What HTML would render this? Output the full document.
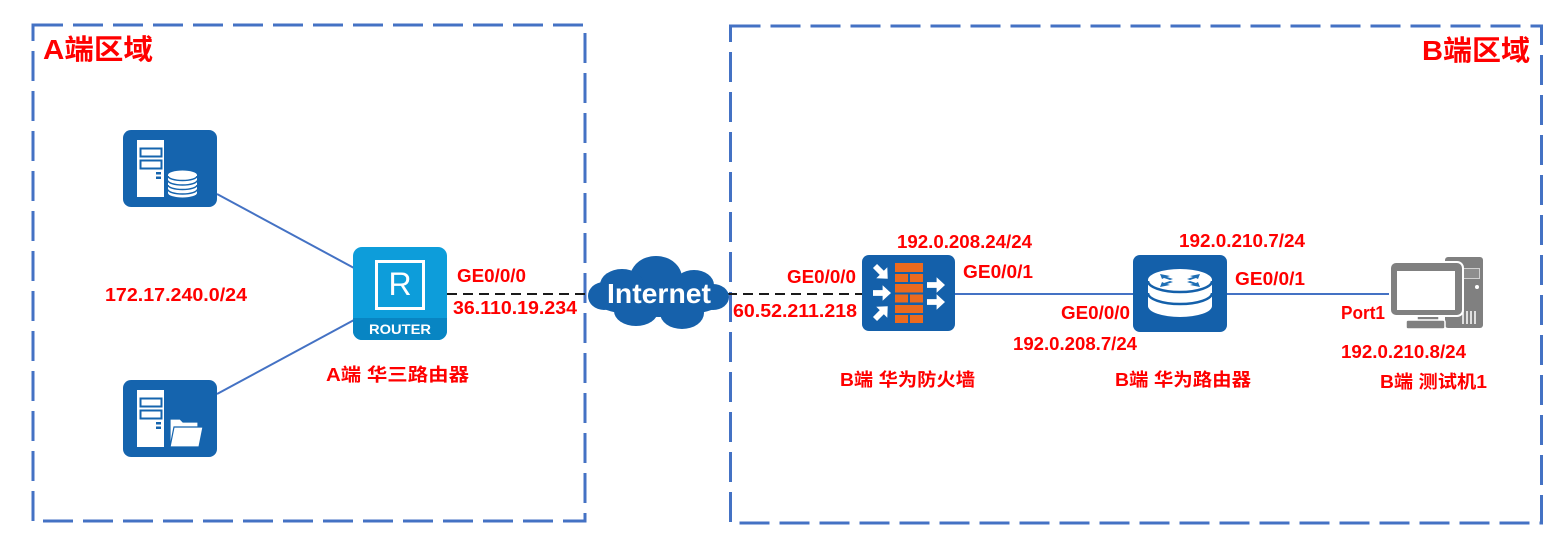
<!DOCTYPE html>
<html><head><meta charset="utf-8">
<style>
html,body{margin:0;padding:0;background:#fff;}
svg{display:block;}
text{font-family:"Liberation Sans","Noto Sans CJK SC",sans-serif;font-weight:bold;}
.r{fill:#ff0000;font-size:18px;}
</style></head>
<body>
<svg width="1568" height="551" viewBox="0 0 1568 551" xmlns="http://www.w3.org/2000/svg">
<defs>
  <polygon id="arr" points="0,-2.4 8,-2.4 8,-6.5 15,0 8,6.5 8,2.4 0,2.4" fill="#fff"/>
</defs>

<!-- region boxes -->
<g fill="none" stroke="#4472C4" stroke-width="3" stroke-dasharray="30 10">
  <rect x="33" y="25" width="552" height="496"/>
  <rect x="730.5" y="26" width="811" height="497"/>
</g>

<!-- connection lines -->
<g stroke="#4472C4" stroke-width="2" fill="none">
  <line x1="217" y1="194" x2="354" y2="268"/>
  <line x1="217" y1="394" x2="354" y2="320"/>
  <line x1="955" y1="294" x2="1133" y2="294"/>
  <line x1="1227" y1="294" x2="1391" y2="294"/>
</g>
<g stroke="#1a1a1a" stroke-width="2" stroke-dasharray="10 6" fill="none">
  <line x1="447" y1="294" x2="592" y2="294"/>
  <line x1="727" y1="294" x2="862" y2="294"/>
</g>

<!-- server 1 (database) -->
<rect x="123" y="130" width="94" height="77" rx="8" fill="#1564AE"/>
<rect x="137" y="140" width="27" height="57" fill="#fff"/>
<rect x="140.5" y="148.5" width="21" height="8" fill="none" stroke="#1564AE" stroke-width="2"/>
<rect x="140.5" y="160.5" width="21" height="8" fill="none" stroke="#1564AE" stroke-width="2"/>
<rect x="156" y="172" width="5" height="2.5" fill="#1564AE"/>
<rect x="156" y="176.5" width="5" height="2.5" fill="#1564AE"/>
<g>
  <path d="M168,175 A14.5,4.5 0 0 1 197,175 V193 A14.5,4.5 0 0 1 168,193 Z" fill="#fff"/>
  <g fill="none" stroke="#1564AE" stroke-width="1.5">
    <path d="M168,176 A14.5,4.5 0 0 0 197,176"/>
    <path d="M168,180.5 A14.5,4.5 0 0 0 197,180.5"/>
    <path d="M168,185 A14.5,4.5 0 0 0 197,185"/>
    <path d="M168,189.5 A14.5,4.5 0 0 0 197,189.5"/>
  </g>
</g>

<!-- server 2 (folder) -->
<rect x="123" y="380" width="94" height="77" rx="8" fill="#1564AE"/>
<rect x="137" y="390" width="27" height="57" fill="#fff"/>
<rect x="140.5" y="398.5" width="21" height="8" fill="none" stroke="#1564AE" stroke-width="2"/>
<rect x="140.5" y="410.5" width="21" height="8" fill="none" stroke="#1564AE" stroke-width="2"/>
<rect x="156" y="422" width="5" height="2.5" fill="#1564AE"/>
<rect x="156" y="426.5" width="5" height="2.5" fill="#1564AE"/>
<path d="M170,419 H180 L183,422 H198 V447 H170 Z" fill="#fff" stroke="#1564AE" stroke-width="1.2"/>
<path d="M170,447 L174,427 H203 L199,447 Z" fill="#fff" stroke="#1564AE" stroke-width="1.2"/>

<!-- router A (H3C) -->
<rect x="353" y="247" width="94" height="93" rx="9" fill="#0D9DDA"/>
<path d="M353,318 H447 V331 A9,9 0 0 1 438,340 H362 A9,9 0 0 1 353,331 Z" fill="#0885C3"/>
<rect x="376.5" y="261.5" width="47" height="47" fill="none" stroke="#fff" stroke-width="3"/>
<text x="400" y="295" text-anchor="middle" fill="#fff" style="font-size:32px;font-weight:normal;">R</text>
<text x="400" y="334" text-anchor="middle" fill="#fff" style="font-size:13.5px;" textLength="62" lengthAdjust="spacingAndGlyphs">ROUTER</text>

<!-- cloud -->
<g fill="#1661AB">
  <ellipse cx="659" cy="297" rx="69" ry="20"/>
  <ellipse cx="656" cy="278" rx="26" ry="22"/>
  <ellipse cx="622" cy="285" rx="22" ry="16"/>
  <ellipse cx="694" cy="285" rx="20" ry="15"/>
  <ellipse cx="636" cy="311" rx="22" ry="15"/>
  <ellipse cx="682" cy="313" rx="22" ry="16"/>
  <ellipse cx="604" cy="296" rx="16" ry="14"/>
  <ellipse cx="713" cy="297" rx="16" ry="13"/>
</g>
<text x="607" y="303" fill="#fff" style="font-size:28px;" textLength="104" lengthAdjust="spacingAndGlyphs">Internet</text>

<!-- firewall -->
<rect x="862" y="255" width="93" height="76" rx="7" fill="#1460AA"/>
<g fill="#EC6A1E">
  <rect x="895" y="263" width="28" height="9"/>
  <rect x="895" y="274" width="13" height="8"/><rect x="910" y="274" width="13" height="8"/>
  <rect x="895" y="284" width="28" height="8.5"/>
  <rect x="895" y="294.5" width="13" height="8"/><rect x="910" y="294.5" width="13" height="8"/>
  <rect x="895" y="305" width="28" height="8"/>
  <rect x="895" y="315" width="13" height="8"/><rect x="910" y="315" width="13" height="8"/>
</g>
<use href="#arr" transform="translate(873,293) scale(1.2)"/>
<use href="#arr" transform="translate(875,266) rotate(45) scale(1.2)"/>
<use href="#arr" transform="translate(875,319) rotate(-45) scale(1.2)"/>
<use href="#arr" transform="translate(927,285) scale(1.2)"/>
<use href="#arr" transform="translate(927,302) scale(1.2)"/>

<!-- huawei router B -->
<rect x="1133" y="255" width="94" height="77" rx="7" fill="#1460AA"/>
<path d="M1148,280 A32,11 0 0 1 1212,280 V306 A32,11 0 0 1 1148,306 Z" fill="#fff"/>
<g fill="none" stroke="#1460AA" stroke-width="2.5">
  <path d="M1148,281 A32,11 0 0 0 1212,281"/>
  <path d="M1148,293 A32,11 0 0 0 1212,293"/>
</g>
<g fill="#1E6FB5">
  <polygon points="1160,274 1170,276 1167,277 1173,279 1170,280 1164,278 1162,279"/>
  <polygon points="1200,274 1190,276 1193,277 1187,279 1190,280 1196,278 1198,279"/>
  <polygon points="1160,287 1170,285 1167,284 1173,282 1170,281 1164,283 1162,282"/>
  <polygon points="1200,287 1190,285 1193,284 1187,282 1190,281 1196,283 1198,282"/>
</g>

<!-- PC -->
<g>
  <rect x="1445" y="257" width="38" height="71" rx="3" fill="#808080"/>
  <rect x="1463.5" y="268.5" width="16" height="10" fill="#8e8e8e" stroke="#d0d0d0" stroke-width="1"/>
  <circle cx="1477" cy="287" r="2" fill="#fff"/>
  <g stroke="#fff" stroke-width="1.5">
    <line x1="1463" y1="311" x2="1463" y2="324"/>
    <line x1="1467" y1="311" x2="1467" y2="324"/>
    <line x1="1471" y1="311" x2="1471" y2="324"/>
    <line x1="1475" y1="311" x2="1475" y2="324"/>
  </g>
  <rect x="1417" y="313" width="22" height="9" fill="#808080" stroke="#fff" stroke-width="1.5"/>
  <rect x="1390" y="262" width="73" height="54" rx="6" fill="#808080" stroke="#fff" stroke-width="2"/>
  <rect x="1397" y="271" width="58" height="39" fill="#fff"/>
  <rect x="1406" y="320" width="39" height="9" rx="2" fill="#808080" stroke="#fff" stroke-width="1.5"/>
</g>

<!-- labels -->
<text x="43" y="59" fill="#ff0000" style="font-size:28px;" textLength="110" lengthAdjust="spacingAndGlyphs">A端区域</text>
<text x="1422" y="60" fill="#ff0000" style="font-size:28px;" textLength="108" lengthAdjust="spacingAndGlyphs">B端区域</text>

<text class="r" x="105" y="301" textLength="142" lengthAdjust="spacingAndGlyphs">172.17.240.0/24</text>
<text class="r" x="457" y="282" textLength="69" lengthAdjust="spacingAndGlyphs">GE0/0/0</text>
<text class="r" x="453" y="314" textLength="124" lengthAdjust="spacingAndGlyphs">36.110.19.234</text>
<text class="r" x="326" y="381" textLength="143" lengthAdjust="spacingAndGlyphs">A端 华三路由器</text>

<text class="r" x="787" y="283" textLength="69" lengthAdjust="spacingAndGlyphs">GE0/0/0</text>
<text class="r" x="733" y="317" textLength="124" lengthAdjust="spacingAndGlyphs">60.52.211.218</text>
<text class="r" x="897" y="248" textLength="135" lengthAdjust="spacingAndGlyphs">192.0.208.24/24</text>
<text class="r" x="963" y="278" textLength="70" lengthAdjust="spacingAndGlyphs">GE0/0/1</text>
<text class="r" x="840" y="386" textLength="135" lengthAdjust="spacingAndGlyphs">B端 华为防火墙</text>

<text class="r" x="1179" y="247" textLength="126" lengthAdjust="spacingAndGlyphs">192.0.210.7/24</text>
<text class="r" x="1235" y="285" textLength="70" lengthAdjust="spacingAndGlyphs">GE0/0/1</text>
<text class="r" x="1061" y="319" textLength="69" lengthAdjust="spacingAndGlyphs">GE0/0/0</text>
<text class="r" x="1013" y="350" textLength="124" lengthAdjust="spacingAndGlyphs">192.0.208.7/24</text>
<text class="r" x="1115" y="386" textLength="136" lengthAdjust="spacingAndGlyphs">B端 华为路由器</text>

<text class="r" x="1341" y="319" textLength="44" lengthAdjust="spacingAndGlyphs">Port1</text>
<text class="r" x="1341" y="358" textLength="125" lengthAdjust="spacingAndGlyphs">192.0.210.8/24</text>
<text class="r" x="1380" y="388" textLength="107" lengthAdjust="spacingAndGlyphs">B端 测试机1</text>
</svg>
</body></html>
